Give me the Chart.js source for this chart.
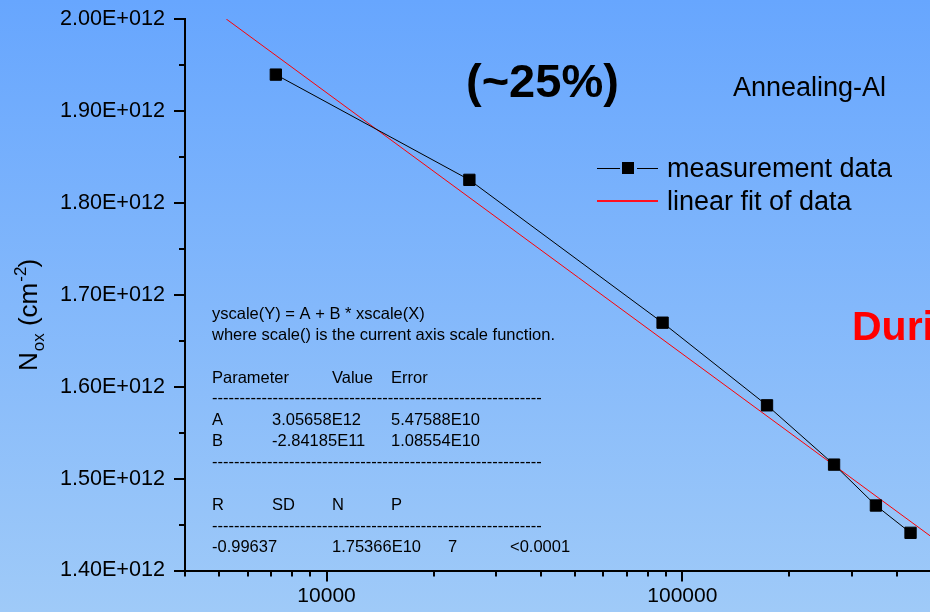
<!DOCTYPE html>
<html>
<head>
<meta charset="utf-8">
<script src="https://cdn.jsdelivr.net/npm/chart.js@4/dist/chart.umd.min.js"></script>
<style>
  html, body { margin: 0; padding: 0; }
  #wrap {
    width: 930px; height: 612px; overflow: hidden; position: relative;
    background: linear-gradient(to bottom, #67a6fe 0%, #9fcaf8 100%);
  }
  canvas { display: block; }
</style>
</head>
<body>
<div id="wrap"><canvas id="chart" width="940" height="612"></canvas></div>
<script>
// anneal time (s) vs oxide charge density
var timeSec = [7200, 25200, 88000, 173000, 267000, 350000, 438000];
var noxValues = [1.9395e12, 1.825e12, 1.6696e12, 1.5797e12, 1.5152e12, 1.4707e12, 1.441e12];

// end points of the linear fit line
var fitX = [5224, 500000];
var fitY = [2.0e12, 1.437e12];

var xTickValues = [4000, 5000, 6000, 7000, 8000, 9000, 10000, 20000, 30000, 40000, 50000,
  60000, 70000, 80000, 90000, 100000, 200000, 300000, 400000, 500000];
var xTickLabels = { 10000: "10000", 100000: "100000" };

var FONT = "'Liberation Sans', Arial, Helvetica, sans-serif";
Chart.defaults.font.family = FONT;
Chart.defaults.color = "#000";

function isDecade(v) {
  var l = Math.log10(v);
  return Math.abs(l - Math.round(l)) < 1e-9;
}

function isMajorY(v) {
  return Math.round(v / 5e10) % 2 === 0;
}

function fmtY(v) {
  return (v / 1e12).toFixed(2) + "E+012";
}

function toPoints(xs, ys) {
  return xs.map(function (x, i) { return { x: x, y: ys[i] }; });
}

// tick marks of two lengths, major and minor
var tickMarks = {
  id: "tickMarks",
  afterDraw: function (chart) {
    var ctx = chart.ctx, a = chart.chartArea;
    var xs = chart.scales.x, ys = chart.scales.y;
    ctx.save();
    ctx.strokeStyle = "#000";
    ctx.lineWidth = 2;
    xs.ticks.forEach(function (t) {
      var px = Math.round(xs.getPixelForValue(t.value));
      var len = isDecade(t.value) ? 11 : 6;
      ctx.beginPath();
      ctx.moveTo(px, a.bottom);
      ctx.lineTo(px, a.bottom + len);
      ctx.stroke();
    });
    ys.ticks.forEach(function (t) {
      var py = Math.round(ys.getPixelForValue(t.value));
      var len = isMajorY(t.value) ? 11 : 6;
      ctx.beginPath();
      ctx.moveTo(a.left, py);
      ctx.lineTo(a.left - len, py);
      ctx.stroke();
    });
    ctx.restore();
  }
};

var statLines = [
  [212, 319, "yscale(Y) = A + B * xscale(X)"],
  [212, 340, "where scale() is the current axis scale function."],
  [212, 383, "Parameter"], [332, 383, "Value"], [391, 383, "Error"],
  [212, 425, "A"], [272, 425, "3.05658E12"], [391, 425, "5.47588E10"],
  [212, 446, "B"], [272, 446, "-2.84185E11"], [391, 446, "1.08554E10"],
  [212, 510, "R"], [272, 510, "SD"], [332, 510, "N"], [391, 510, "P"],
  [212, 552, "-0.99637"], [332, 552, "1.75366E10"], [448, 552, "7"], [510, 552, "<0.0001"]
];
var dashRows = [403, 467, 531];

var annotations = {
  id: "annotations",
  afterDraw: function (chart) {
    var ctx = chart.ctx;
    ctx.save();
    ctx.fillStyle = "#000";
    ctx.textBaseline = "alphabetic";
    ctx.textAlign = "left";

    // y axis title, rotated
    ctx.save();
    ctx.translate(37, 371);
    ctx.rotate(-Math.PI / 2);
    ctx.font = "26px " + FONT;
    var cx = 0;
    ctx.fillText("N", cx, 0); cx += ctx.measureText("N").width;
    ctx.font = "17px " + FONT;
    ctx.fillText("ox", cx + 1, 7); cx += ctx.measureText("ox").width + 1;
    ctx.font = "26px " + FONT;
    ctx.fillText(" (cm", cx, 0); cx += ctx.measureText(" (cm").width;
    ctx.font = "17px " + FONT;
    ctx.fillText("-2", cx + 1, -11); cx += ctx.measureText("-2").width;
    ctx.font = "26px " + FONT;
    ctx.fillText(")", cx, 0);
    ctx.restore();

    ctx.font = "bold 47px " + FONT;
    ctx.fillText("(~25%)", 466, 97);
    ctx.font = "27px " + FONT;
    ctx.fillText("Annealing-Al", 733, 96);

    ctx.fillStyle = "#ff0000";
    ctx.font = "bold 41px " + FONT;
    ctx.fillText("During", 852, 340);

    // fit statistics
    ctx.fillStyle = "#000";
    ctx.font = "16.5px " + FONT;
    statLines.forEach(function (s) { ctx.fillText(s[2], s[0], s[1]); });
    var dashes = new Array(61).join("-");
    dashRows.forEach(function (yb) { ctx.fillText(dashes, 212, yb); });

    // legend
    ctx.fillStyle = "#000";
    ctx.fillRect(597, 168, 23, 1);
    ctx.fillRect(637, 168, 21, 1);
    ctx.fillRect(622, 162, 12, 12);
    ctx.fillStyle = "#ff1020";
    ctx.fillRect(597, 200, 61, 2);
    ctx.fillStyle = "#000";
    ctx.font = "27px " + FONT;
    ctx.fillText("measurement data", 667, 177);
    ctx.fillText("linear fit of data", 667, 210);
    ctx.restore();
  }
};

new Chart(document.getElementById("chart"), {
  type: "line",
  data: {
    datasets: [{
      label: "measurement data",
      data: toPoints(timeSec, noxValues),
      borderColor: "#000",
      borderWidth: 1,
      pointStyle: "rect",
      pointRadius: 8,
      pointBackgroundColor: "#000",
      pointBorderColor: "#000",
      pointBorderWidth: 1,
      tension: 0
    }, {
      label: "linear fit of data",
      data: toPoints(fitX, fitY),
      borderColor: "#ff0000",
      borderWidth: 1,
      pointRadius: 0,
      tension: 0
    }]
  },
  options: {
    responsive: false,
    animation: false,
    events: [],
    layout: { padding: { left: 0, top: 19, right: 7.4, bottom: 0 } },
    plugins: { legend: { display: false }, tooltip: { enabled: false } },
    scales: {
      x: {
        type: "logarithmic",
        min: 4000,
        max: 500000,
        afterBuildTicks: function (scale) {
          scale.ticks = xTickValues.map(function (v) { return { value: v }; });
        },
        afterFit: function (scale) {
          scale.height = 41.5;
          scale.paddingLeft = 0;
          scale.paddingRight = 0;
        },
        grid: { display: true, drawOnChartArea: false, drawTicks: false },
        border: { display: true, color: "#000", width: 2 },
        ticks: {
          autoSkip: false,
          maxRotation: 0,
          padding: 13,
          font: { size: 21 },
          color: "#000",
          callback: function (v) { return xTickLabels[v] || ""; }
        }
      },
      y: {
        type: "linear",
        min: 1.4e12,
        max: 2.0e12,
        afterFit: function (scale) {
          scale.width = 185;
          scale.paddingTop = 0;
          scale.paddingBottom = 0;
        },
        grid: { display: true, drawOnChartArea: false, drawTicks: false },
        border: { display: true, color: "#000", width: 2 },
        ticks: {
          stepSize: 5e10,
          autoSkip: false,
          padding: 20,
          font: { size: 21.6 },
          color: "#000",
          callback: function (v) { return isMajorY(v) ? fmtY(v) : ""; }
        }
      }
    }
  },
  plugins: [tickMarks, annotations]
});
</script>
</body>
</html>
